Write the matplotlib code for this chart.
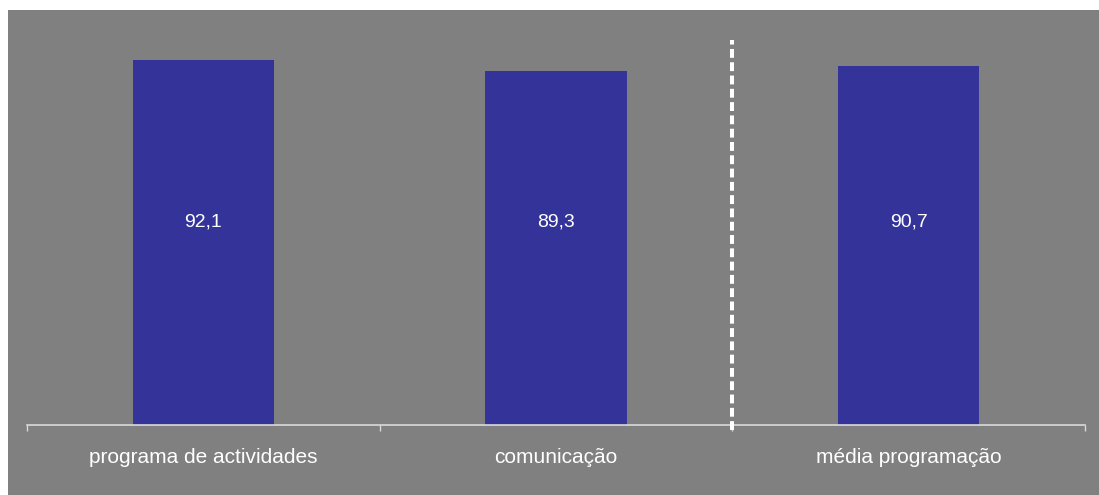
import matplotlib
matplotlib.use("Agg")
import matplotlib.pyplot as plt
from matplotlib.patches import Rectangle

categories = ["programa de actividades", "comunicação", "média programação"]
values = [92.1, 89.3, 90.7]
value_labels = ["92,1", "89,3", "90,7"]

W, H = 1099, 495
plt.rcParams['font.family'] = ['Liberation Sans', 'DejaVu Sans']
fig = plt.figure(figsize=(W / 100, H / 100), dpi=100, facecolor="white")
bg = Rectangle((8 / W, 0), 1, (H - 10) / H, transform=fig.transFigure,
               facecolor="#808080", edgecolor="none", zorder=-10)
fig.add_artist(bg)

ax = fig.add_axes([27 / W, (H - 425) / H, 1058 / W, 396 / H])
ax.set_zorder(1)
ax.set_facecolor("none")
x = list(range(len(categories)))
ax.bar(x, values, width=0.4, color="#333399", zorder=2)
ax.set_xlim(-0.5, len(categories) - 0.5)
ax.set_ylim(0, 100)

for xi, lab in zip(x, value_labels):
    ax.text(xi, 51.3, lab, ha="center", va="center", color="white", fontsize=14, zorder=3)

for s in ["top", "right", "left"]:
    ax.spines[s].set_visible(False)
ax.spines["bottom"].set_color("#d9d9d9")
ax.spines["bottom"].set_linewidth(1.2)
ax.set_yticks([])
ax.set_xticks([i - 0.5 for i in range(len(categories) + 1)])
ax.set_xticklabels([])
ax.tick_params(axis="x", direction="out", length=4, color="#d9d9d9", width=1)
for xi, c in zip(x, categories):
    ax.text(xi, -8.2, c, ha="center", va="center", color="white", fontsize=15)

ax.plot([1.5, 1.5], [-1.3, 97.2], color="white", linewidth=2.9,
        linestyle=(0, (2.2, 1.1)), clip_on=False, zorder=4)

fig.savefig("out.png", dpi=100, facecolor="white")
